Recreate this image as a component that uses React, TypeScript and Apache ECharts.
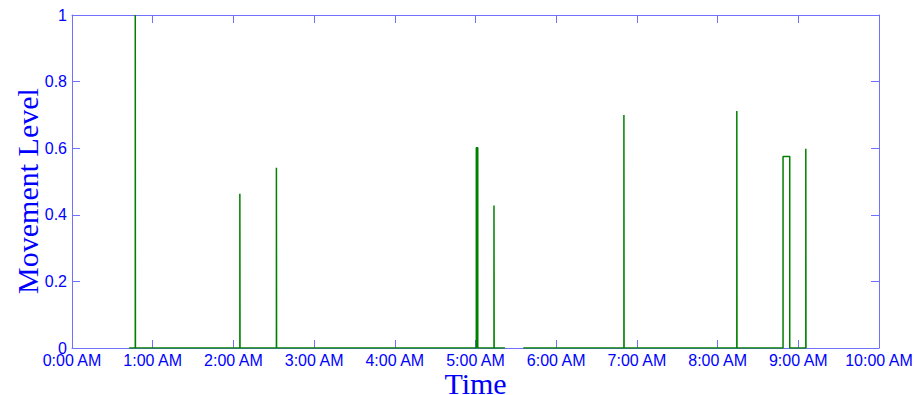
import React, { useEffect, useRef } from "react";
import * as echarts from "echarts";

// Tick labels for the hour axis (index = hour)
const hourLabels = [
  "0:00 AM", "1:00 AM", "2:00 AM", "3:00 AM", "4:00 AM", "5:00 AM",
  "6:00 AM", "7:00 AM", "8:00 AM", "9:00 AM", "10:00 AM",
];

// Movement level readings: [time in hours, level]
const segmentEarly: [number, number][] = [
  [0.709, 0], [0.784, 0], [0.784, 1.0], [0.786, 0],
  [2.08, 0], [2.08, 0.463], [2.082, 0],
  [2.533, 0], [2.533, 0.541], [2.535, 0],
  [5.01, 0], [5.01, 0.601], [5.028, 0.601], [5.028, 0],
  [5.229, 0], [5.229, 0.428], [5.231, 0],
  [5.365, 0],
];

const segmentLate: [number, number][] = [
  [5.592, 0],
  [6.839, 0], [6.839, 0.70], [6.841, 0],
  [8.238, 0], [8.238, 0.712], [8.24, 0],
  [8.811, 0], [8.811, 0.575], [8.894, 0.575], [8.894, 0],
  [9.093, 0], [9.093, 0.598], [9.095, 0],
];

const axisBlue = "#7070ff";
const textBlue = "#0000ff";
const lineGreen = "#008000";

export default function App() {
  const ref = useRef<HTMLDivElement>(null);
  useEffect(() => {
    document.body.style.margin = "0";
    if (!ref.current) return;
    const chart = echarts.init(ref.current, undefined, { renderer: "svg" });
    const axisLine = { show: true, onZero: false, lineStyle: { color: axisBlue, width: 1 } };
    const axisTick = { show: true, inside: true, length: 8, lineStyle: { color: axisBlue, width: 1 } };
    chart.setOption({
      animation: false,
      backgroundColor: "#ffffff",
      grid: { left: 72, right: 41, top: 15, bottom: 47, containLabel: false, outerBoundsMode: "none" },
      xAxis: [
        {
          type: "value",
          min: 0,
          max: 10,
          interval: 1,
          position: "bottom",
          axisLine,
          axisTick,
          splitLine: { show: false },
          axisLabel: {
            color: textBlue,
            fontSize: 16,
            fontFamily: "Liberation Sans, Arial, sans-serif",
            margin: 4,
            formatter: (v: number) => hourLabels[Math.round(v)] ?? "",
          },
          name: "Time",
          nameLocation: "middle",
          nameGap: 20,
          nameMoveOverlap: false,
          nameTextStyle: {
            color: textBlue,
            fontSize: 30,
            lineHeight: 30,
            fontFamily: "Liberation Serif, Times New Roman, serif",
          },
        },
        {
          type: "value",
          min: 0,
          max: 10,
          interval: 1,
          position: "top",
          axisLine,
          axisTick,
          splitLine: { show: false },
          axisLabel: { show: false },
        },
      ],
      yAxis: [
        {
          type: "value",
          min: 0,
          max: 1,
          interval: 0.2,
          position: "left",
          axisLine,
          axisTick,
          splitLine: { show: false },
          axisLabel: {
            color: textBlue,
            fontSize: 16,
            fontFamily: "Liberation Sans, Arial, sans-serif",
            margin: 5,
          },
          name: "Movement Level",
          nameLocation: "middle",
          nameGap: 30,
          nameMoveOverlap: false,
          nameTextStyle: {
            color: textBlue,
            fontSize: 30,
            fontFamily: "Liberation Serif, Times New Roman, serif",
            padding: [0, 19, 0, 0],
          },
        },
        {
          type: "value",
          min: 0,
          max: 1,
          interval: 0.2,
          position: "right",
          axisLine,
          axisTick,
          splitLine: { show: false },
          axisLabel: { show: false },
        },
      ],
      series: [
        {
          type: "line",
          data: segmentEarly,
          showSymbol: false,
          symbol: "none",
          lineStyle: { color: lineGreen, width: 1.5 },
          itemStyle: { color: lineGreen },
        },
        {
          type: "line",
          data: segmentLate,
          showSymbol: false,
          symbol: "none",
          lineStyle: { color: lineGreen, width: 1.5 },
          itemStyle: { color: lineGreen },
        },
      ],
    });
    return () => chart.dispose();
  }, []);
  return (
    <div
      ref={ref}
      style={{ width: 920, height: 395, background: "#fff" }}
    />
  );
}
